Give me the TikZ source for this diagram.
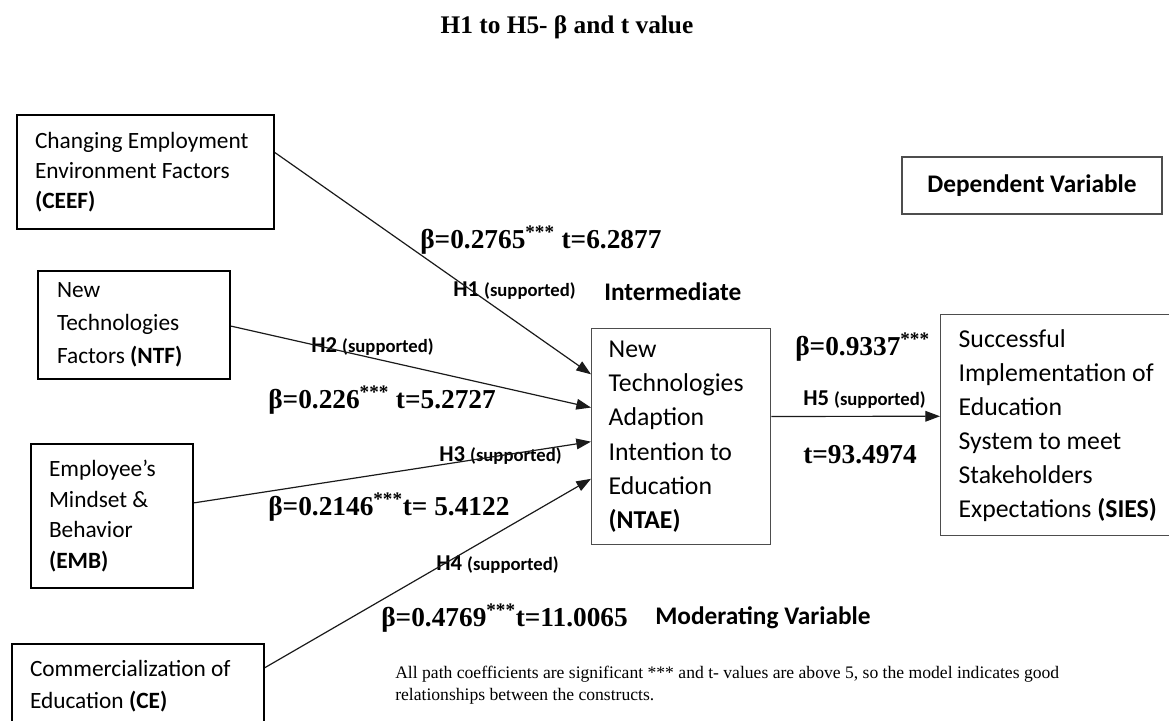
\documentclass[tikz,border=0pt]{standalone}
\usepackage{fontspec}
\setmainfont{Liberation Serif}
\newfontfamily\calibri{Carlito}
\usepackage{tikz}
\usetikzlibrary{positioning,arrows.meta,calc}
\definecolor{cLine}{HTML}{1A1A1A}
\definecolor{cFrame}{HTML}{4D4D4D}
\newcommand{\hypsup}{{\fontsize{14}{16}\selectfont(supported)}}
\tikzset{
  box-in/.style={draw=black,line width=1.5pt,anchor=north west,inner ysep=0pt,
    inner xsep=13.5pt,align=flush left,font=\calibri\fontsize{17.5}{22.5}\selectfont},
  box-out/.style={draw=cFrame,line width=1pt,anchor=north west,inner ysep=0pt,
    inner xsep=13.5pt,align=flush left,font=\calibri\fontsize{19.3}{25.5}\selectfont},
  lbl-beta/.style={anchor=west,inner sep=0pt,font=\bfseries\fontsize{20.5}{24}\selectfont},
  lbl-hyp/.style={anchor=west,inner sep=0pt,font=\calibri\bfseries\fontsize{17}{20}\selectfont},
  lbl-tag/.style={anchor=west,inner sep=0pt,font=\calibri\bfseries\fontsize{19}{22}\selectfont},
  arrow/.style={-{Triangle[length=11pt,width=8pt]},line width=0.9pt,draw=cLine},
}
\begin{document}
\begin{tikzpicture}[x=0.75pt,y=-0.75pt]
  \useasboundingbox (0,0) rectangle (1169,720);
  \node[font=\bfseries\fontsize{19}{22}\selectfont,anchor=base] (title) at (567,34) {H1 to H5- β and t value};

  % constructs
  \node[box-in,minimum width=192.75pt,minimum height=85.5pt,text width=165.75pt] (ceef) at (16,114)
    {Changing Employment\\Environment Factors\\\textbf{(CEEF)}};
  \node[box-in,minimum width=144pt,minimum height=81pt,text width=115.5pt,inner xsep=14.25pt,
    font=\calibri\fontsize{17.5}{24.75}\selectfont] (ntf) at (37,270)
    {New\\Technologies\\Factors \textbf{(NTF)}};
  \node[box-in,minimum width=121.5pt,minimum height=108pt,text width=94.5pt,
    font=\calibri\fontsize{17.5}{22.9}\selectfont] (emb) at (30,443)
    {Employee’s\\Mindset \&\\Behavior\\\textbf{(EMB)}};
  \node[box-in,minimum width=189pt,minimum height=63pt,text width=162pt,
    font=\calibri\fontsize{17.5}{24}\selectfont] (ce) at (11,643)
    {Commercialization of\\Education \textbf{(CE)}};
  \node[box-out,minimum width=134.25pt,minimum height=162pt,text width=108.75pt,inner xsep=12.75pt,
    font=\calibri\fontsize{19.3}{25.65}\selectfont] (ntae) at (591,328)
    {New\\Technologies\\Adaption\\Intention to\\Education\\\textbf{(NTAE)}};
  \node[box-out,minimum width=180pt,minimum height=165.75pt,text width=153pt] (sies) at (940,314)
    {Successful\\Implementation of\\Education\\System to meet\\Stakeholders\\Expectations \textbf{(SIES)}};
  \node[draw=cFrame,line width=1pt,minimum width=195pt,minimum height=42.75pt,
    font=\calibri\bfseries\fontsize{19}{22}\selectfont] (dv) at (1032,185.5) {Dependent Variable};

  % path labels
  \node[lbl-beta] (b1) at (420,240) {β=0.2765\textsuperscript{***} t=6.2877};
  \node[lbl-hyp] (h1) at (453,291) {H1 \hypsup};
  \node[lbl-tag] (mid) at (604,292) {Intermediate};
  \node[lbl-hyp] (h2) at (311,347) {H2 \hypsup};
  \node[lbl-beta] (b2) at (268,400) {β=0.226\textsuperscript{***} t=5.2727};
  \node[lbl-hyp] (h3) at (439,456) {H3 \hypsup};
  \node[lbl-beta] (b3) at (268,507) {β=0.2146\textsuperscript{***}t= 5.4122};
  \node[lbl-hyp] (h4) at (436,565) {H4 \hypsup};
  \node[lbl-beta] (b4) at (381,618) {β=0.4769\textsuperscript{***}t=11.0065};
  \node[lbl-tag] (mod) at (655,618) {Moderating Variable};
  \node[lbl-beta] (b5) at (795,347) {β=0.9337\textsuperscript{***}};
  \node[lbl-hyp] (h5) at (803,400) {H5 \hypsup};
  \node[lbl-beta] (t5) at (803,455) {t=93.4974};
  \node[anchor=base west,align=left,inner sep=0pt,font=\fontsize{13.2}{16.5}\selectfont] (note) at (395,700)
    {All path coefficients are significant *** and t- values are above 5, so the model indicates good\\
     relationships between the constructs.};

  % paths
  \draw[arrow] ($(ceef.north east)!.333!(ceef.south east)$) -- ($(ntae.north west)!.213!(ntae.south west)$);
  \draw[arrow] ($(ntf.north east)!.51!(ntf.south east)$) -- ($(ntae.north west)!.366!(ntae.south west)$);
  \draw[arrow] ($(emb.north east)!.41!(emb.south east)$) -- ($(ntae.north west)!.523!(ntae.south west)$);
  \draw[arrow] ($(ce.north east)!.286!(ce.south east)$) -- ($(ntae.north west)!.694!(ntae.south west)$);
  \draw[arrow] ($(ntae.north east)!.407!(ntae.south east)$) -- ($(sies.north west)!.46!(sies.south west)$);
\end{tikzpicture}
\end{document}
